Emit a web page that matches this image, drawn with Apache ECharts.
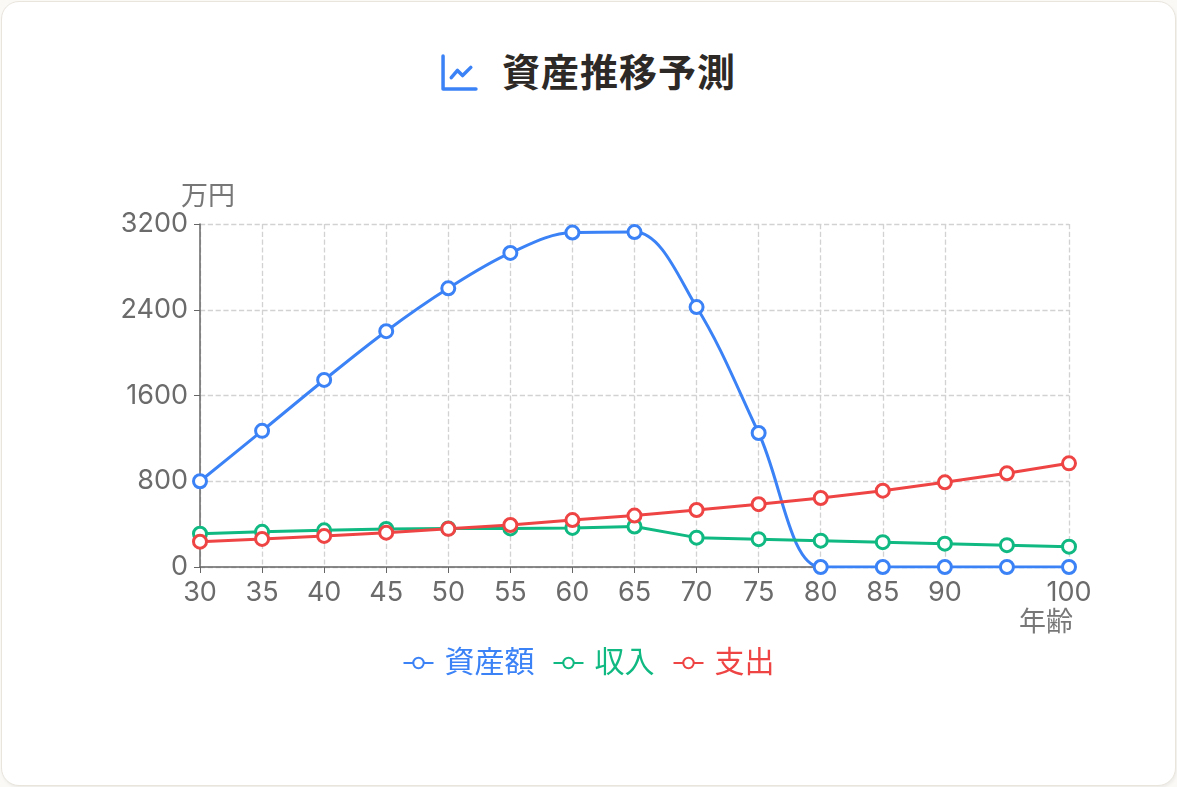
<!DOCTYPE html>
<html lang="ja">
<head>
<meta charset="utf-8">
<title>資産推移予測</title>
<script src="https://cdn.jsdelivr.net/npm/echarts@6/dist/echarts.min.js"></script>
<style>
	html, body { margin: 0; padding: 0; width: 1177px; height: 787px; background: #faf9f6; overflow: hidden; }
	.card {
		position: absolute; left: 1px; top: 1px; width: 1173px; height: 783px;
		background: #fff; border: 1px solid #e9e5dd; border-radius: 18px;
		box-shadow: 1px 2px 3px rgba(0,0,0,0.05);
	}
	.title {
		position: absolute; left: 0; top: 42px; width: 100%; text-align: center;
		font-family: "Noto Sans CJK JP", sans-serif; font-weight: 700; font-size: 38px;
		letter-spacing: 1px; color: #2d2926; line-height: 56px;
	}
	.title svg { vertical-align: -5px; margin-right: 24px; }
	#chart { position: absolute; left: 0; top: 0; width: 1177px; height: 787px; }
</style>
</head>
<body>
<div class="card"></div>
<div class="title"><svg width="37" height="37" viewBox="0 0 36 36" fill="none" stroke="#3b82f6" stroke-width="3.4" stroke-linecap="round" stroke-linejoin="round"><path d="M2 2 V34 H34"/><path d="M10 23 L16 16 L21 21 L29 13"/></svg>資産推移予測</div>
<div id="chart"></div>
<script>
// 年齢
var ages = ['30', '35', '40', '45', '50', '55', '60', '65', '70', '75', '80', '85', '90', '95', '100'];
// 万円
var assets = [800, 1270, 1745, 2200, 2600, 2930, 3120, 3125, 2425, 1250, 0, 0, 0, 0, 0];
var income = [310, 328, 342, 355, 360, 360, 365, 378, 274, 260, 246, 232, 218, 204, 190];
var expense = [236, 262, 290, 320, 356, 392, 438, 480, 532, 586, 644, 712, 790, 874, 967];
var yTicks = [0, 800, 1600, 2400, 3200];

var colors = ['#3b82f6', '#10b981', '#ef4444'];
var names = ['資産額', '収入', '支出'];
var smoothing = [0.35, false, false];
var FONT = 'Inter, "Noto Sans CJK JP", sans-serif';

// 95歳の目盛りだけ表示しない
var showTick = function(index) {
	return ages[index] !== '95';
};

var makeSeries = function(i, data) {
	return {
		name: names[i],
		type: 'line',
		smooth: smoothing[i],
		data: data,
		symbol: 'circle',
		symbolSize: 13,
		lineStyle: { width: 3, color: colors[i] },
		itemStyle: { color: '#fff', borderWidth: 3, borderColor: colors[i] }
	};
};

var option = {
	color: colors,
	animation: false,
	grid: { left: 200, right: 108, top: 224, bottom: 220, containLabel: false },
	legend: {
		top: 643,
		left: 'center',
		itemWidth: 30,
		itemHeight: 13,
		itemGap: 18,
		textStyle: { fontSize: 30, fontFamily: FONT, padding: [0, 0, 0, 6] },
		data: names.map(function(n, i) {
			return { name: n, textStyle: { color: colors[i] } };
		})
	},
	xAxis: {
		type: 'category',
		boundaryGap: false,
		data: ages,
		name: '年齢',
		nameLocation: 'end',
		nameGap: -50,
		nameTextStyle: { color: '#777', fontSize: 27, fontFamily: FONT, verticalAlign: 'top', padding: [42, 0, 0, 0] },
		axisLine: { lineStyle: { color: '#666', width: 1.5 } },
		axisTick: { interval: showTick, length: 6, lineStyle: { color: '#666' } },
		axisLabel: { interval: showTick, color: '#6b6b6b', fontSize: 27, fontFamily: FONT, margin: 12 },
		splitLine: { show: true, interval: showTick, lineStyle: { type: 'dashed', color: '#d2d2d2', width: 1.3 } }
	},
	yAxis: {
		type: 'value',
		min: yTicks[0],
		max: yTicks[yTicks.length - 1],
		interval: yTicks[1] - yTicks[0],
		name: '万円',
		nameGap: 12,
		nameTextStyle: { color: '#777', fontSize: 27, fontFamily: FONT, align: 'center', padding: [0, 0, 0, 16] },
		axisLine: { show: true, lineStyle: { color: '#666', width: 1.5 } },
		axisTick: { show: true, length: 6, lineStyle: { color: '#666' } },
		axisLabel: { color: '#6b6b6b', fontSize: 27, fontFamily: FONT, margin: 12, formatter: function(v) { return String(v); } },
		splitLine: { lineStyle: { type: 'dashed', color: '#d2d2d2', width: 1.3 } }
	},
	series: [
		makeSeries(0, assets),
		makeSeries(1, income),
		makeSeries(2, expense)
	]
};

var myChart = echarts.init(document.getElementById('chart'), null, { renderer: 'canvas' });
myChart.setOption(option);
</script>
</body>
</html>
